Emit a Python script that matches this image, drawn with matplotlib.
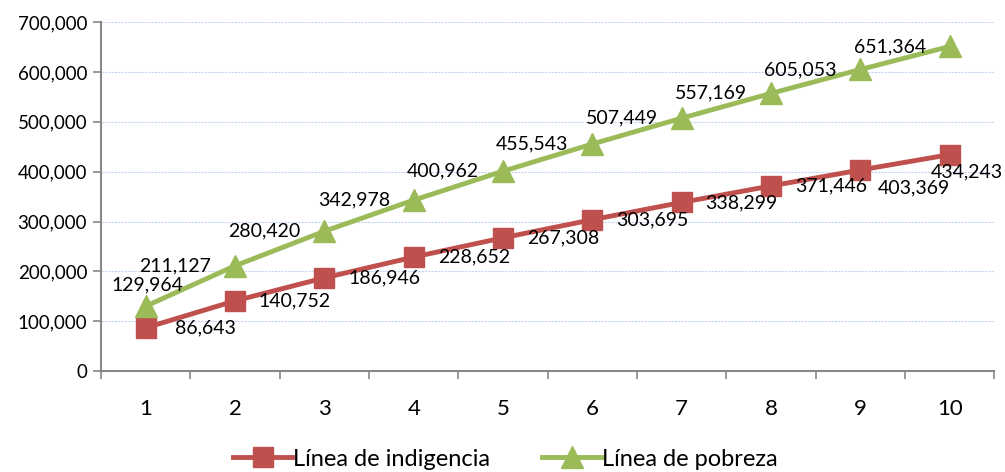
import matplotlib.pyplot as plt
from matplotlib.ticker import FuncFormatter, MultipleLocator

# Data
periodos = [1, 2, 3, 4, 5, 6, 7, 8, 9, 10]
indigencia = [86643, 140752, 186946, 228652, 267308, 303695, 338299, 371446, 403369, 434243]
pobreza = [129964, 211127, 280420, 342978, 400962, 455543, 507449, 557169, 605053, 651364]

rojo = "#c0504d"
verde = "#9bbb59"

plt.rcParams['font.family'] = ['Lato', 'DejaVu Sans']

fig = plt.figure(figsize=(10.05, 4.72), dpi=100)
ax = fig.add_axes([0.1005, 0.214, 0.889, 0.739])

ax.plot(periodos, indigencia, color=rojo, lw=3.5, marker='s', ms=14,
        label="Línea de indigencia", zorder=3)
ax.plot(periodos, pobreza, color=verde, lw=3.5, marker='^', ms=16,
        label="Línea de pobreza", zorder=3)

# data labels, offsets in pixels
px = 72 / 100
for i, (x, v) in enumerate(zip(periodos, indigencia)):
    dx, dy = 60, 0
    if i == 8:
        dx, dy = 53, -18
    if i == 9:
        dx, dy = 17, -17
    ax.annotate(f"{v:,}", (x, v), xytext=(dx * px, dy * px), textcoords='offset points',
                ha='center', va='center', fontsize=14, zorder=4, annotation_clip=False)
for i, (x, v) in enumerate(zip(periodos, pobreza)):
    dx, dy = -60, 0
    if i == 0:
        dx, dy = 2, 21
    ax.annotate(f"{v:,}", (x, v), xytext=(dx * px, dy * px), textcoords='offset points',
                ha='center', va='center', fontsize=14, zorder=4, annotation_clip=False)

ax.set_xlim(0.5, 10.5)
ax.set_ylim(0, 700000)
ax.yaxis.set_major_locator(MultipleLocator(100000))
ax.yaxis.set_major_formatter(FuncFormatter(lambda v, p: f"{int(v):,}"))
ax.set_xticks(periodos)
ax.set_xticks([k + 0.5 for k in range(0, 11)], minor=True)
ax.tick_params(axis='x', which='major', length=0, labelsize=16, pad=20)
ax.tick_params(axis='x', which='minor', length=6, color='#888888', width=1.2)
ax.tick_params(axis='y', length=6, color='#888888', width=1.2, labelsize=13.5, pad=4)

ax.grid(axis='y', color='#c5d5ee', linestyle=(0, (2, 1)), lw=0.8)
ax.set_axisbelow(True)
for s in ['top', 'right']:
    ax.spines[s].set_visible(False)
for s in ['left', 'bottom']:
    ax.spines[s].set_color('#888888')
    ax.spines[s].set_linewidth(1.5)

fig.legend(loc='center', bbox_to_anchor=(0.503, 0.027), ncol=2, frameon=False,
           fontsize=17, handlelength=2.5, handletextpad=0.05, columnspacing=2.2,
           borderaxespad=0)

fig.savefig("out.png", dpi=100)
